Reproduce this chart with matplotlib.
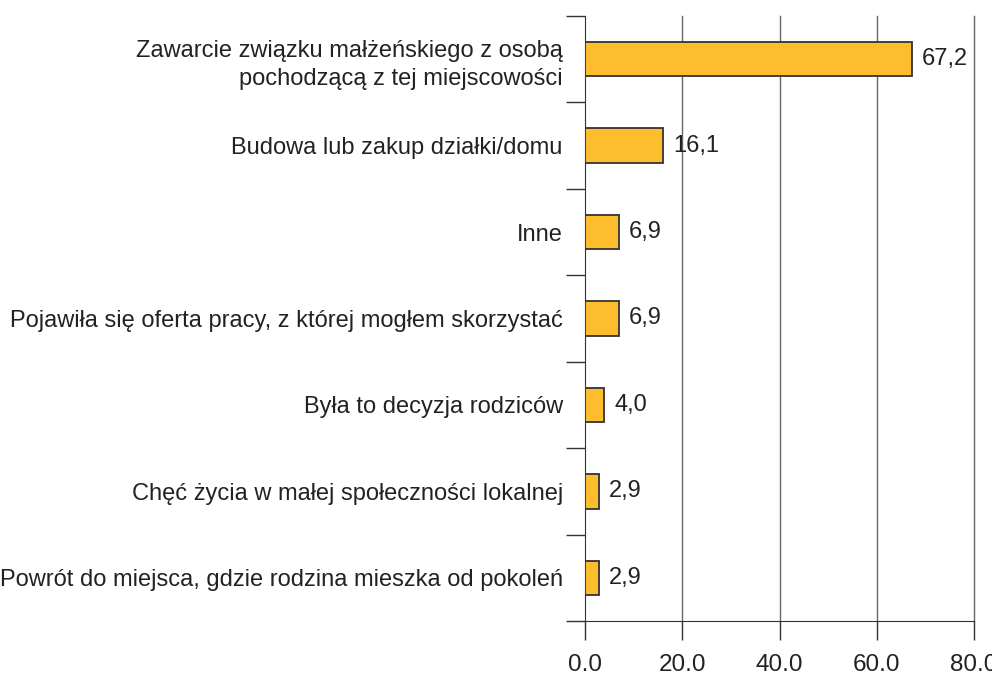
import matplotlib.pyplot as plt
import numpy as np

categories = [
    "Zawarcie związku małżeńskiego z osobą\npochodzącą z tej miejscowości",
    "Budowa lub zakup działki/domu",
    "Inne",
    "Pojawiła się oferta pracy, z której mogłem skorzystać",
    "Była to decyzja rodziców",
    "Chęć życia w małej społeczności lokalnej",
    "Powrót do miejsca, gdzie rodzina mieszka od pokoleń",
]
values = [67.2, 16.1, 6.9, 6.9, 4.0, 2.9, 2.9]
value_labels = ["67,2", "16,1", "6,9", "6,9", "4,0", "2,9", "2,9"]
x_ticks = [0, 20, 40, 60, 80]
x_tick_labels = ["0.0", "20.0", "40.0", "60.0", "80.0"]

plt.rcParams['font.family'] = ['Liberation Sans', 'DejaVu Sans']

fig = plt.figure(figsize=(9.92, 6.77), dpi=100)
ax = fig.add_axes([0.5897, 0.0827, 0.3922, 0.8937])

y = np.arange(len(categories))
ax.barh(y, values, height=0.4, color="#FDBD2C", edgecolor="#333333", linewidth=1.3, zorder=3)
for yi, v, lab in zip(y, values, value_labels):
    ax.text(v + 2.0, yi, lab, va="center", ha="left", fontsize=17, color="#222222", zorder=4)

ax.set_xlim(0, 80)
ax.set_ylim(len(categories) - 0.5, -0.5)
ax.set_xticks(x_ticks)
ax.set_xticklabels(x_tick_labels, fontsize=17.5, color="#222222")
ax.tick_params(axis="x", length=14, width=1, color="#333333", pad=10)

ax.set_yticks(y)
ax.set_yticklabels(categories, fontsize=17, color="#222222", linespacing=1.4)
ax.tick_params(axis="y", which="major", length=0, pad=16)
ax.set_yticks(np.arange(len(categories) + 1) - 0.5, minor=True)
ax.tick_params(axis="y", which="minor", length=14, width=1, color="#333333")

for xv in x_ticks[1:]:
    ax.axvline(xv, color="#666666", linewidth=1, zorder=0, clip_on=False)
ax.spines["top"].set_visible(False)
ax.spines["right"].set_visible(False)
ax.spines["left"].set_color("#333333")
ax.spines["bottom"].set_color("#333333")

fig.savefig("out.png", dpi=100)
